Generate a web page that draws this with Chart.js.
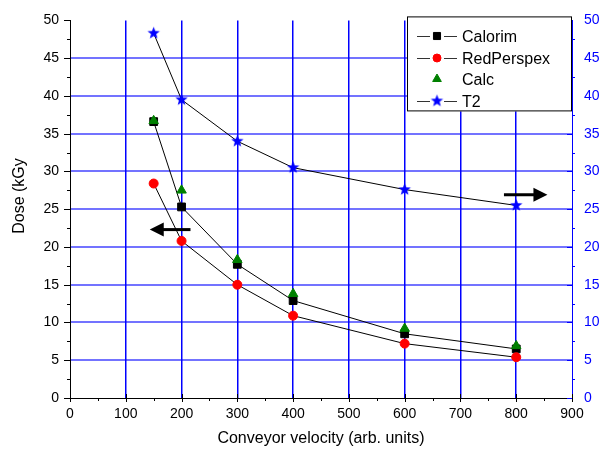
<!DOCTYPE html>
<html>
<head>
<meta charset="utf-8">
<script src="https://cdn.jsdelivr.net/npm/chart.js@4.4.0/dist/chart.umd.min.js"></script>
<style>
html, body { margin: 0; padding: 0; background: #fff; }
</style>
</head>
<body>
<canvas id="doseChart" width="609" height="455"></canvas>
<script>
// Data
const velocity   = [150, 200, 300, 400, 600, 800];
const calorim    = [36.6, 25.3, 17.7, 12.9, 8.5, 6.5];
const redPerspex = [28.4, 20.8, 15.0, 10.9, 7.2, 5.4];
const calc       = [36.7, 27.5, 18.3, 13.8, 9.2, 6.9];
const t2         = [48.3, 39.5, 34.0, 30.5, 27.6, 25.5];

// arrows pointing at the axis each group belongs to (data coords)
const leftArrow  = { x0: 216, x1: 143, y: 22.3, axis: 'y' };
const rightArrow = { x0: 778, x1: 856, y: 26.9, axis: 'y2' };

const FONT = 'Liberation Sans, Arial, sans-serif';

const pts = (ys) => velocity.map((x, i) => ({ x: x, y: ys[i] }));

// filled five point star for T2
function makeStar(r, color) {
    const c = document.createElement('canvas');
    const s = Math.ceil(r * 2 + 2);
    c.width = s; c.height = s;
    const g = c.getContext('2d');
    g.fillStyle = color;
    g.beginPath();
    for (let i = 0; i < 10; i++) {
        const rad = i % 2 === 0 ? r : r * 0.42;
        const a = -Math.PI / 2 + i * Math.PI / 5;
        const px = s / 2 + rad * Math.cos(a), py = s / 2 + rad * Math.sin(a);
        if (i === 0) g.moveTo(px, py); else g.lineTo(px, py);
    }
    g.closePath();
    g.fill();
    return c;
}
const starImg = makeStar(6.5, '#0000ff');

function drawArrow(ctx, x0, x1, y) {
    const dir = Math.sign(x1 - x0);
    ctx.save();
    ctx.strokeStyle = '#000';
    ctx.fillStyle = '#000';
    ctx.lineWidth = 3;
    ctx.beginPath();
    ctx.moveTo(x0, y);
    ctx.lineTo(x1 - dir * 12, y);
    ctx.stroke();
    ctx.beginPath();
    ctx.moveTo(x1, y);
    ctx.lineTo(x1 - dir * 14, y - 7);
    ctx.lineTo(x1 - dir * 14, y + 7);
    ctx.closePath();
    ctx.fill();
    ctx.restore();
}

const extrasPlugin = {
    id: 'extras',
    afterDraw(chart) {
        const ctx = chart.ctx;
        const sx = chart.scales.x, sy = chart.scales.y, sy2 = chart.scales.y2;
        const area = chart.chartArea;

        // tick marks, major and minor
        ctx.save();
        ctx.lineWidth = 1;
        ctx.strokeStyle = '#000';
        ctx.beginPath();
        for (let v = 0; v <= 900; v += 50) {
            const px = Math.round(sx.getPixelForValue(v)) + 0.5;
            const major = v % 100 === 0;
            ctx.moveTo(px, area.bottom - (major ? 4 : 0));
            ctx.lineTo(px, area.bottom + (major ? 4 : 3));
        }
        for (let v = 0; v <= 50; v += 2.5) {
            const py = Math.round(sy.getPixelForValue(v)) + 0.5;
            const major = v % 5 === 0;
            ctx.moveTo(area.left - (major ? 6 : 3), py);
            ctx.lineTo(area.left, py);
        }
        ctx.stroke();
        ctx.strokeStyle = '#0000ff';
        ctx.beginPath();
        for (let v = 0; v <= 50; v += 2.5) {
            const py = Math.round(sy2.getPixelForValue(v)) + 0.5;
            const major = v % 5 === 0;
            ctx.moveTo(area.right - (major ? 5 : 0), py);
            ctx.lineTo(area.right + (major ? 0 : 3), py);
        }
        ctx.stroke();
        ctx.restore();

        // y title, drawn by hand to sit where the original does
        ctx.save();
        ctx.translate(20, 196);
        ctx.rotate(-Math.PI / 2);
        ctx.font = '16px ' + FONT;
        ctx.fillStyle = '#000';
        ctx.textAlign = 'center';
        ctx.textBaseline = 'middle';
        ctx.fillText('Dose (kGy', 0, 0);
        ctx.restore();

        // arrows
        [leftArrow, rightArrow].forEach(a => {
            const s = chart.scales[a.axis];
            drawArrow(ctx, sx.getPixelForValue(a.x0), sx.getPixelForValue(a.x1), s.getPixelForValue(a.y));
        });

        // legend box in the top right corner
        const bx = area.right - 165, by = area.top - 4, bw = 165, bh = 95;
        ctx.save();
        ctx.fillStyle = '#fff';
        ctx.fillRect(bx, by, bw, bh);
        ctx.strokeStyle = '#000';
        ctx.lineWidth = 1;
        ctx.strokeRect(bx + 0.5, by + 0.5, bw - 1, bh - 1);
        ctx.font = '16px ' + FONT;
        ctx.textBaseline = 'middle';
        chart.data.datasets.forEach((ds, i) => {
            const cy = Math.round(by + 20 + i * 21.5);
            const mx = bx + 30;
            if (ds.showLine !== false) {
                ctx.beginPath();
                ctx.moveTo(bx + 10, cy + 0.5); ctx.lineTo(mx - 7, cy + 0.5);
                ctx.moveTo(mx + 7, cy + 0.5); ctx.lineTo(bx + 50, cy + 0.5);
                ctx.strokeStyle = '#333';
                ctx.lineWidth = 1;
                ctx.stroke();
            }
            if (typeof ds.pointStyle === 'string') {
                ctx.fillStyle = ds.pointBackgroundColor;
                ctx.strokeStyle = ds.pointBorderColor;
                Chart.helpers.drawPoint(ctx, { pointStyle: ds.pointStyle, radius: ds.pointRadius - 0.5, rotation: 0, borderWidth: 1 }, mx, cy);
            } else {
                ctx.drawImage(ds.pointStyle, mx - ds.pointStyle.width / 2, cy - ds.pointStyle.height / 2);
            }
            ctx.fillStyle = '#000';
            ctx.fillText(ds.label, bx + 55, cy + 2);
        });
        ctx.restore();
    }
};

const chart = new Chart(document.getElementById('doseChart'), {
    type: 'line',
    data: {
        datasets: [
            { label: 'Calorim', data: pts(calorim), yAxisID: 'y', borderColor: '#000', borderWidth: 1,
              pointStyle: 'rect', pointRadius: 5.5, pointBackgroundColor: '#000', pointBorderColor: '#000', order: 2 },
            { label: 'RedPerspex', data: pts(redPerspex), yAxisID: 'y', borderColor: '#000', borderWidth: 1,
              pointStyle: 'circle', pointRadius: 4.5, pointBackgroundColor: '#ff0000', pointBorderColor: '#ff0000', order: 1 },
            { label: 'Calc', data: pts(calc), yAxisID: 'y', showLine: false,
              pointStyle: 'triangle', pointRadius: 5.5, pointBackgroundColor: '#008000', pointBorderColor: '#008000', order: 0 },
            { label: 'T2', data: pts(t2), yAxisID: 'y2', borderColor: '#000', borderWidth: 1,
              pointStyle: starImg, pointRadius: 6, pointBackgroundColor: '#0000ff', pointBorderColor: '#0000ff', order: 1 }
        ]
    },
    options: {
        responsive: false,
        animation: false,
        devicePixelRatio: 1,
        layout: { padding: { top: 17, left: 0, right: 0, bottom: 0 } },
        plugins: { legend: { display: false }, tooltip: { enabled: false } },
        scales: {
            x: {
                type: 'linear', min: 0, max: 900,
                ticks: { stepSize: 100, color: '#000', font: { family: FONT, size: 14 }, padding: 8, maxRotation: 0 },
                grid: {
                    drawTicks: false, lineWidth: 1.5,
                    color: c => (c.index === 0 || c.index === 9) ? 'rgba(0,0,0,0)' : '#0000ff'
                },
                border: { color: '#000', width: 1 },
                title: { display: true, text: 'Conveyor velocity (arb. units)', color: '#000',
                         font: { family: FONT, size: 16 }, padding: { top: 2, bottom: 7 } },
                afterFit: s => { s.height = 57; }
            },
            y: {
                position: 'left', min: 0, max: 50,
                ticks: { stepSize: 5, color: '#000', font: { family: FONT, size: 14 }, padding: 11 },
                grid: {
                    drawTicks: false, lineWidth: 2,
                    color: c => (c.index === 0 || c.index === 10) ? 'rgba(0,0,0,0)' : 'rgba(0,0,255,0.55)'
                },
                border: { color: '#000', width: 1 },
                afterFit: s => { s.width = 70; }
            },
            y2: {
                position: 'right', min: 0, max: 50,
                ticks: { stepSize: 5, color: '#0000ff', font: { family: FONT, size: 14 }, padding: 12 },
                grid: { drawOnChartArea: false, drawTicks: false },
                border: { color: '#0000ff', width: 1 },
                afterFit: s => { s.width = 37; }
            }
        }
    },
    plugins: [extrasPlugin]
});
</script>
</body>
</html>
